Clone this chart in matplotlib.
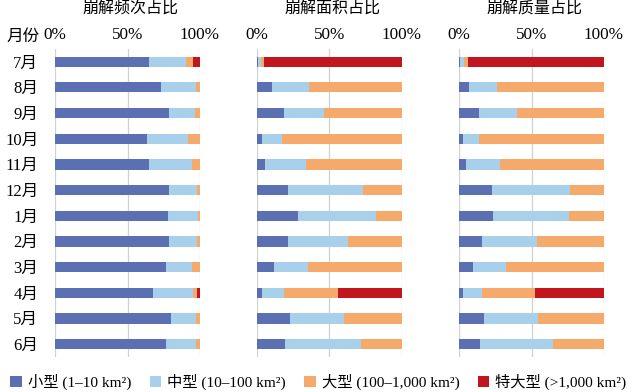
import matplotlib
matplotlib.use("Agg")
import matplotlib.pyplot as plt
from matplotlib.patches import Patch
import numpy as np

plt.rcParams['font.family'] = ['Liberation Serif', 'Noto Sans CJK SC', 'DejaVu Sans']

months = ['7月', '8月', '9月', '10月', '11月', '12月', '1月', '2月', '3月', '4月', '5月', '6月']
titles = ['崩解频次占比', '崩解面积占比', '崩解质量占比']
legend_labels = ['小型 (1–10 km²)', '中型 (10–100 km²)', '大型 (100–1,000 km²)', '特大型 (>1,000 km²)']
colors = ['#5a70b2', '#a9d0ea', '#f5aa6c', '#c1161d']
ticks = [0, 50, 100]
tick_labels = ['0%', '50%', '100%']

# segment shares (percent): small, medium, large, extra-large
freq_small = [65.0, 73.3, 78.6, 63.2, 64.6, 78.9, 77.7, 78.9, 76.3, 67.6, 80.0, 76.8]
freq_medium = [25.3, 23.7, 18.0, 28.3, 29.9, 18.8, 20.7, 18.8, 18.4, 27.8, 17.2, 20.4]
freq_large = [5.1, 3.0, 3.4, 8.5, 5.5, 2.3, 1.6, 2.3, 5.3, 2.8, 2.8, 2.8]
freq_xl = [4.6, 0, 0, 0, 0, 0, 0, 0, 0, 1.8, 0, 0]

area_small = [1.0, 10.3, 19.1, 3.9, 6.0, 21.6, 28.3, 21.6, 12.2, 3.7, 22.8, 19.8]
area_medium = [1.8, 26.0, 27.6, 13.6, 28.3, 52.0, 54.0, 41.6, 23.4, 15.2, 37.4, 52.4]
area_large = [2.2, 63.7, 53.3, 82.5, 65.7, 26.4, 17.7, 36.8, 64.4, 37.4, 39.8, 27.8]
area_xl = [95.0, 0, 0, 0, 0, 0, 0, 0, 0, 43.7, 0, 0]

mass_small = [1.0, 6.9, 14.1, 2.8, 4.6, 22.6, 23.5, 15.7, 9.9, 3.0, 17.3, 14.5]
mass_medium = [2.2, 19.1, 26.0, 11.3, 23.5, 53.7, 52.5, 37.8, 22.8, 12.7, 37.3, 50.0]
mass_large = [2.8, 74.0, 59.9, 85.9, 71.9, 23.7, 24.0, 46.5, 67.3, 36.4, 45.4, 35.5]
mass_xl = [94.0, 0, 0, 0, 0, 0, 0, 0, 0, 47.9, 0, 0]

panels = [
    [freq_small, freq_medium, freq_large, freq_xl],
    [area_small, area_medium, area_large, area_xl],
    [mass_small, mass_medium, mass_large, mass_xl],
]

fig = plt.figure(figsize=(6.37, 3.92), dpi=100)
lefts_px = [55, 256.7, 459]
width_px = 145
top_px, bot_px = 48.85, 356.9
W, H = 637, 392

y = np.arange(len(months))
for i, (series, title) in enumerate(zip(panels, titles)):
    ax = fig.add_axes([lefts_px[i] / W, 1 - bot_px / H, width_px / W, (bot_px - top_px) / H])
    left = np.zeros(len(months))
    for vals, c in zip(series, colors):
        vals = np.array(vals, dtype=float)
        ax.barh(y, vals, left=left, height=0.4, color=c, zorder=3)
        left += vals
    ax.set_xlim(0, 100)
    ax.set_ylim(len(months) - 0.5, -0.5)
    ax.xaxis.tick_top()
    ax.set_xticks(ticks)
    ax.set_xticklabels(tick_labels, fontsize=12.3)
    ax.tick_params(axis='x', length=0, pad=4)
    ax.grid(axis='x', color='#d0d0d0', linewidth=0.9, zorder=0)
    for s in ax.spines.values():
        s.set_visible(False)
    if i == 0:
        ax.set_yticks(y)
        ax.set_yticklabels(months, fontsize=12)
        ax.tick_params(axis='y', length=0, pad=12)
    else:
        ax.set_yticks([])
    fig.text((lefts_px[i] + width_px / 2 + 3) / W, 1 - 10 / H, title, ha='center', va='center', fontsize=11.5)

fig.text(23 / W, 1 - 37 / H, '月份', ha='center', va='center', fontsize=12)

handles = [Patch(facecolor=c, edgecolor='none') for c in colors]
fig.legend(handles, legend_labels, loc='center', bbox_to_anchor=(0.5, 1 - 382 / H), ncol=4,
           frameon=False, fontsize=11, handlelength=0.75, handleheight=0.75, handletextpad=0.4,
           columnspacing=1.2, borderaxespad=0, borderpad=0)

fig.savefig('out.png', dpi=100)
